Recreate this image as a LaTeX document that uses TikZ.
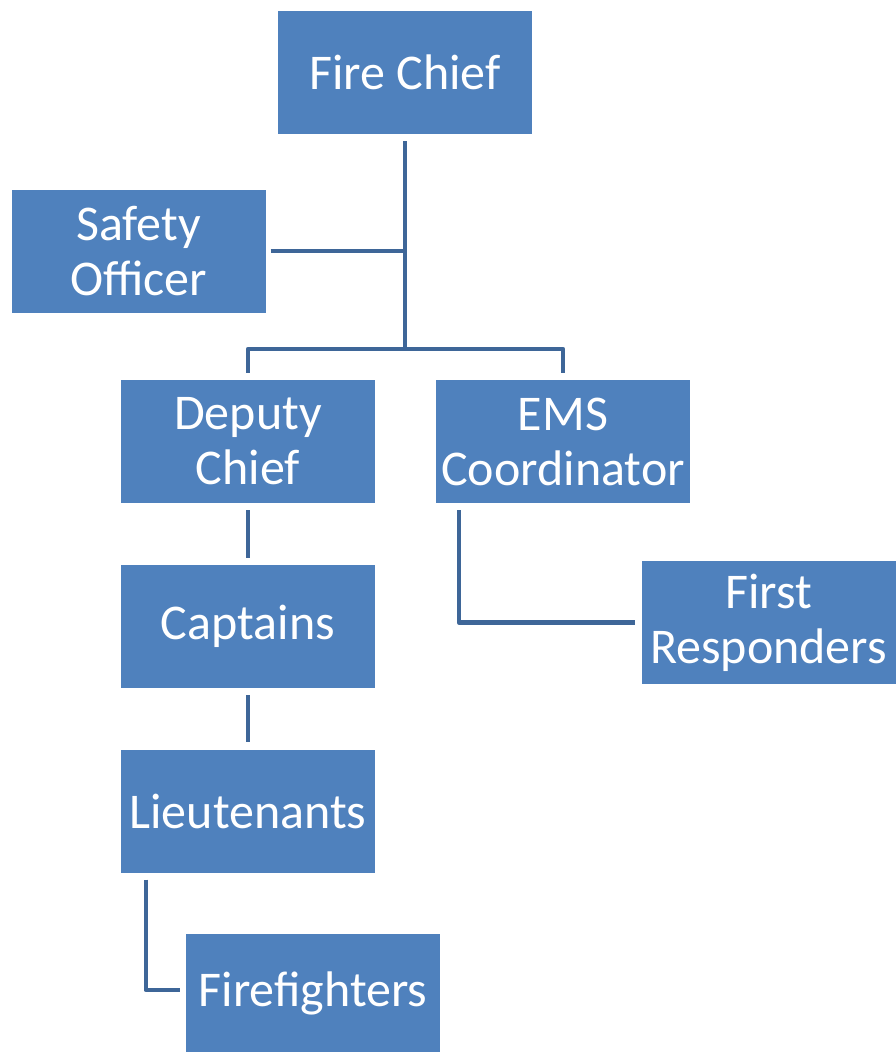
\documentclass[tikz,border=0pt]{standalone}
\usepackage{fontspec}
\setmainfont{Carlito}
\definecolor{boxfill}{HTML}{4F81BD}
\definecolor{linecol}{HTML}{3E6698}
\begin{document}
\begin{tikzpicture}[x=1pt,y=-1pt,
  box/.style={fill=boxfill,draw=none,minimum width=254pt,minimum height=123pt,
    text=white,align=center,inner sep=0pt,font=\fontsize{50}{55}\selectfont},
  conn/.style={draw=linecol,line width=4.5pt,line join=round}]
\useasboundingbox[fill=white] (0,0) rectangle (895,1053);
\node[box] (fc) at (405,72.5) {Fire Chief};
\node[box] (so) at (138.5,251) {Safety\\Officer};
\node[box] (dc) at (248,441.5) {Deputy\\Chief};
\node[box] (ems) at (563,441.5) {EMS\\Coordinator};
\node[box] (fr) at (768.5,622.5) {First\\Responders};
\node[box] (cap) at (248,626.5) {Captains};
\node[box] (lt) at (248,811) {Lieutenants};
\node[box,minimum height=118pt] (ff) at (313,993) {Firefighters};
\coordinate (j) at (405,349);
\draw[conn,shorten <=7pt] (fc.south) -- (j);
\draw[conn,shorten <=5pt] (so.east) -- (so.east -| j);
\draw[conn,shorten <=7pt,shorten >=7pt] (dc.north) |- (j) -| (ems.north);
\draw[conn,shorten <=7pt,shorten >=7pt] (dc.south) -- (cap.north);
\draw[conn,shorten <=7pt,shorten >=7pt] (cap.south) -- (lt.north);
\draw[conn,shorten <=7pt,shorten >=6pt] ([xshift=25pt]lt.south west) |- ([yshift=3pt]ff.west);
\draw[conn,shorten <=7pt,shorten >=6pt] ([xshift=23pt]ems.south west) |- (fr.west);
\end{tikzpicture}
\end{document}
